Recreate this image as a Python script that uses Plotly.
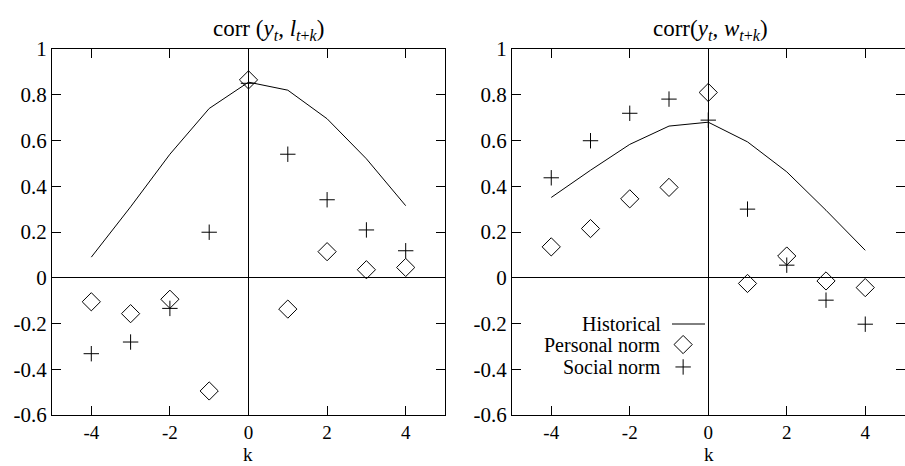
import plotly.graph_objects as go

# ---- data ----
k = [-4, -3, -2, -1, 0, 1, 2, 3, 4]

hist_l = [0.09, 0.31, 0.54, 0.74, 0.855, 0.82, 0.695, 0.52, 0.315]
pers_l = [-0.105, -0.157, -0.094, -0.495, 0.865, -0.137, 0.114, 0.035, 0.045]
soc_l = [-0.332, -0.281, -0.134, 0.199, 0.85, 0.54, 0.341, 0.209, 0.118]

hist_w = [0.351, 0.47, 0.583, 0.663, 0.68, 0.594, 0.463, 0.295, 0.12]
pers_w = [0.135, 0.215, 0.345, 0.395, 0.81, -0.025, 0.095, -0.014, -0.043]
soc_w = [0.437, 0.599, 0.719, 0.781, 0.689, 0.30, 0.055, -0.098, -0.203]

titles = ["corr (<i>y</i><sub><i>t</i></sub>, <i>l</i><sub><i>t</i>+<i>k</i></sub>)",
          "corr(<i>y</i><sub><i>t</i></sub>, <i>w</i><sub><i>t</i>+<i>k</i></sub>)"]
x_tickvals = [-4, -2, 0, 2, 4]
x_ticktext = ["-4", "-2", "0", "2", "4"]
y_tickvals = [-0.6, -0.4, -0.2, 0, 0.2, 0.4, 0.6, 0.8, 1]
y_ticktext = ["-0.6", "-0.4", "-0.2", "0", "0.2", "0.4", "0.6", "0.8", "1"]
legend_names = ["Historical", "Personal norm", "Social norm"]

# ---- style ----
W, H = 905, 466
FONT = "Liberation Serif"
FS = 21
BLACK = "black"

fig = go.Figure()

def add_panel(hist, pers, soc, xa, ya):
    fig.add_trace(go.Scatter(x=k, y=hist, mode="lines", line=dict(color=BLACK, width=1),
                             xaxis=xa, yaxis=ya, showlegend=False))
    fig.add_trace(go.Scatter(x=k, y=pers, mode="markers",
                             marker=dict(symbol="diamond-open", size=14, color=BLACK,
                                         line=dict(width=1, color=BLACK)),
                             xaxis=xa, yaxis=ya, showlegend=False))
    fig.add_trace(go.Scatter(x=k, y=soc, mode="markers",
                             marker=dict(symbol="cross-thin", size=11, color=BLACK,
                                         line=dict(width=1, color=BLACK)),
                             xaxis=xa, yaxis=ya, showlegend=False))

add_panel(hist_l, pers_l, soc_l, "x", "y")
add_panel(hist_w, pers_w, soc_w, "x2", "y2")

# legend keys (right panel, data coords)
key_x = -0.64
fig.add_trace(go.Scatter(x=[key_x], y=[-0.292], mode="markers",
                         marker=dict(symbol="diamond-open", size=14, color=BLACK,
                                     line=dict(width=1, color=BLACK)),
                         xaxis="x2", yaxis="y2", showlegend=False, hoverinfo="skip"))
fig.add_trace(go.Scatter(x=[key_x], y=[-0.39], mode="markers",
                         marker=dict(symbol="cross-thin", size=11, color=BLACK,
                                     line=dict(width=1, color=BLACK)),
                         xaxis="x2", yaxis="y2", showlegend=False, hoverinfo="skip"))

ydom = [1 - 415 / H, 1 - 49 / H]
doms = [[52 / W, 445 / W], [512 / W, 904.5 / W]]

axis_common = dict(
    showline=True, linecolor=BLACK, linewidth=1, mirror="ticks",
    ticks="inside", ticklen=9, tickcolor=BLACK, tickwidth=1,
    showgrid=False, zeroline=True, zerolinecolor=BLACK, zerolinewidth=1,
)

layout = dict(
    width=W, height=H, margin=dict(l=0, r=0, t=0, b=0),
    paper_bgcolor="white", plot_bgcolor="white", showlegend=False,
    font=dict(family=FONT, size=FS, color=BLACK),
)
for i, (xa, ya) in enumerate([("xaxis", "yaxis"), ("xaxis2", "yaxis2")]):
    anchor_x = "y" if i == 0 else "y2"
    anchor_y = "x" if i == 0 else "x2"
    layout[xa] = dict(axis_common, domain=doms[i], range=[-5, 5], anchor=anchor_x,
                      tickvals=x_tickvals, ticktext=x_ticktext, automargin=False,
                      tickfont=dict(family=FONT, size=19, color=BLACK))
    layout[ya] = dict(axis_common, domain=ydom, range=[-0.6, 1], anchor=anchor_y,
                      tickvals=y_tickvals, ticktext=y_ticktext, automargin=False,
                      tickfont=dict(family=FONT, size=FS, color=BLACK))
fig.update_layout(**layout)

annotations = []
centers = [268 / W, 710 / W]
for i in range(2):
    annotations.append(dict(x=centers[i], y=1 - 30 / H, xref="paper", yref="paper",
                            text=titles[i], showarrow=False, xanchor="center", yanchor="middle",
                            font=dict(family=FONT, size=23, color=BLACK)))
    annotations.append(dict(x=[248 / W, 709 / W][i], y=0, xref="paper", yref="paper",
                            text="k", showarrow=False, xanchor="center", yanchor="bottom",
                            yshift=-1, font=dict(family=FONT, size=19, color=BLACK)))
leg_y = [324, 345, 367]
for name, yy in zip(legend_names, leg_y):
    annotations.append(dict(x=663 / W, y=1 - yy / H, xref="paper", yref="paper",
                            text=name, showarrow=False, xanchor="right", yanchor="middle",
                            font=dict(family=FONT, size=20, color=BLACK)))
fig.update_layout(annotations=annotations)
fig.add_shape(type="line", xref="paper", yref="paper", x0=672 / W, x1=705 / W,
              y0=1 - 324 / H, y1=1 - 324 / H, line=dict(color=BLACK, width=1))

fig.write_html("out.html")
